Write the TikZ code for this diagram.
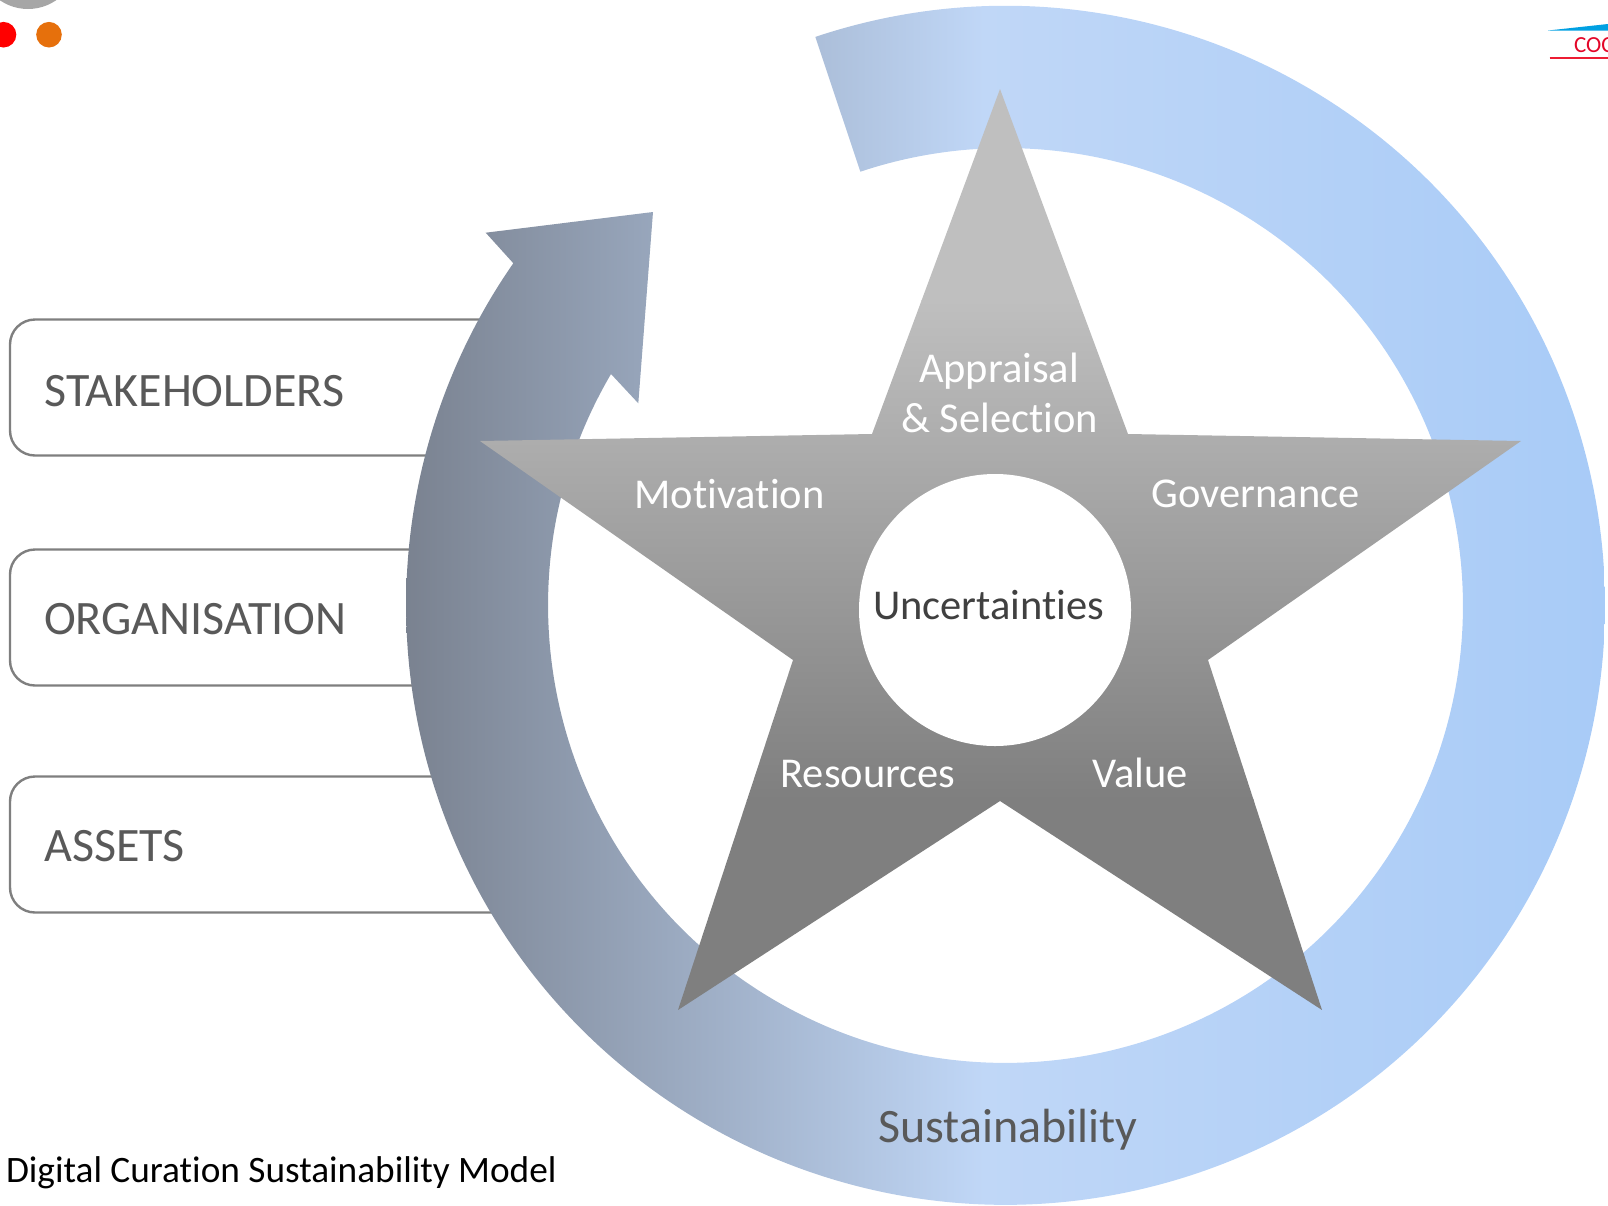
\documentclass[tikz,border=0pt]{standalone}
\usepackage{fontspec}
\setmainfont[Ligatures=CommonOff]{Carlito}
\definecolor{ringa}{HTML}{7A8290}
\definecolor{ringb}{HTML}{C0D7F7}
\definecolor{ringc}{HTML}{A8CBF7}
\definecolor{boxline}{HTML}{7F7F7F}
\definecolor{labelgrey}{HTML}{595959}
\definecolor{stara}{HTML}{BFBFBF}
\definecolor{starb}{HTML}{7F7F7F}
\pgfdeclarehorizontalshading{ringshade}{100bp}{color(0bp)=(ringa); color(25bp)=(ringa); color(49.1bp)=(ringb); color(75bp)=(ringc); color(100bp)=(ringc)}
\tikzset{
  boxshape/.style={draw=boxline,line width=2.4,fill=white,rounded corners=25},
  txt/.style={anchor=base west,inner sep=0,outer sep=0},
  sidelabel/.style={txt,text=labelgrey,font=\fontsize{48}{56}\selectfont},
  starlabel/.style={txt,text=white,font=\fontsize{42.5}{50}\selectfont},
}
\newcommand{\ringpath}{(815.3,36.9) arc[start angle=-108.5,end angle=214.8,radius=599.4] -- (485.7,232.7) -- (653,212) -- (638.3,403.3) -- (611,374) arc[start angle=210.4,end angle=-108.5,radius=457.4] -- cycle}
\newcommand{\starpath}{(1000,89) -- (1128,434) -- (1521,441) -- (1208,660) -- (1322,1010) -- (1000,801) -- (678,1010) -- (793,660) -- (480,441) -- (872,434) -- cycle}
\begin{document}
\begin{tikzpicture}[x=1pt,y=-1pt]
\useasboundingbox (0,0) rectangle (1608,1205);
\begin{scope}
\clip (0,0) rectangle (1608,1205);
% corner marks
\fill[fill=black!35] (28,-40.6) circle[radius=49.6];
\fill[fill=red] (3.5,34.7) circle[radius=12.8];
\fill[fill={rgb,255:red,230;green,112;blue,12}] (49,34.7) circle[radius=12.8];
% logo fragment
\fill[fill={rgb,255:red,0;green,160;blue,226}] (1548,30.5) -- (1608,24) -- (1608,30.5) -- cycle;
\draw[draw={rgb,255:red,237;green,28;blue,50},line width=2] (1549.7,58) -- (1608,58);
\node[txt,text={rgb,255:red,227;green,6;blue,40},font=\fontsize{23}{28}\selectfont] (logo) at (1574,52) {COC};
% boxes
\draw[boxshape] (10,319.5) rectangle (518,455.5);
\draw[boxshape] (10,549.5) rectangle (518,685.5);
\draw[boxshape] (10,776.5) rectangle (518,912.5);
% ring arrow
\begin{scope}
\clip \ringpath;
\shade[shading=ringshade] (406.1,0) rectangle (1604.9,1205);
\end{scope}
% star
\begin{scope}
\clip \starpath;
\fill[fill=stara] (480,89) rectangle (1521,301);
\shade[top color=stara,bottom color=starb] (480,300) rectangle (1521,800);
\fill[fill=starb] (480,799) rectangle (1521,1010);
\end{scope}
\fill[fill=white] (995,610) circle[radius=136];
\end{scope}
% labels
\node[sidelabel] (stake) at (44.5,406) {STAKEHOLDERS};
\node[sidelabel] (org) at (44,634) {ORGANISATION};
\node[sidelabel] (assets) at (44.5,861) {ASSETS};
\node[starlabel] (appr) at (919,382) {Appraisal};
\node[starlabel] (sel) at (901,432.5) {\& Selection};
\node[starlabel] (motiv) at (634.5,508) {Motivation};
\node[starlabel] (gov) at (1151.5,507) {Governance};
\node[starlabel,text={rgb,255:red,64;green,64;blue,64}] (unc) at (873,619.5) {Uncertainties};
\node[starlabel] (res) at (780.5,787) {Resources};
\node[starlabel] (val) at (1092.6,787) {Value};
\node[txt,text=labelgrey,font=\fontsize{48}{58}\selectfont] (sust) at (878.5,1142) {Sustainability};
\node[txt,text=black,font=\fontsize{37.3}{44}\selectfont] (cap) at (6,1182.7) {Digital Curation Sustainability Model};
\end{tikzpicture}
\end{document}
